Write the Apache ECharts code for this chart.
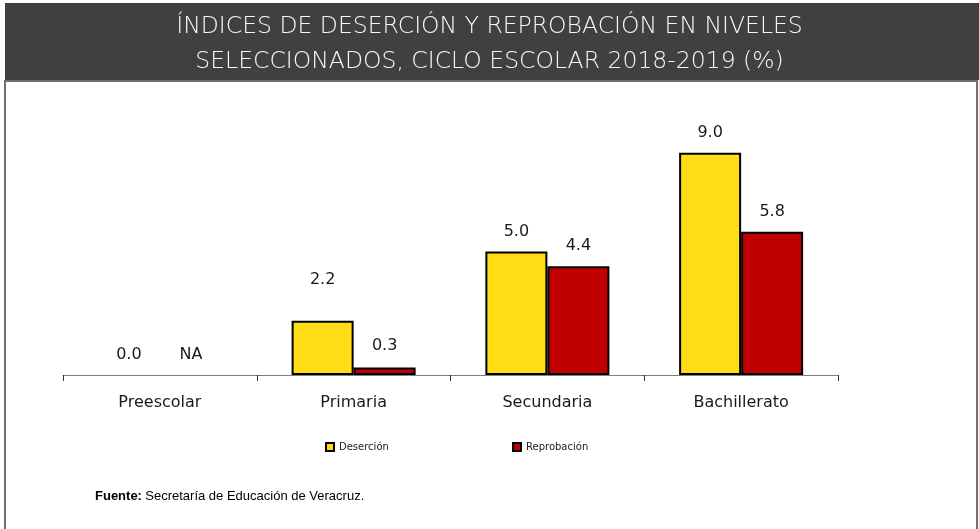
<!DOCTYPE html>
<html><head><meta charset="utf-8">
<script src="https://cdn.jsdelivr.net/npm/echarts@6/dist/echarts.min.js"></script>
<style>html,body{margin:0;padding:0;background:#fff}#c{width:979px;height:529px}</style>
</head><body><div id="c"></div>
<script>
const categories = ['Preescolar', 'Primaria', 'Secundaria', 'Bachillerato'];
const desercion = [0.0, 2.2, 5.0, 9.0];
const reprobacion = [null, 0.3, 4.4, 5.8];
const seriesNames = ['Deserción', 'Reprobación'];
const titleLines = ['ÍNDICES DE DESERCIÓN Y REPROBACIÓN EN NIVELES', 'SELECCIONADOS, CICLO ESCOLAR 2018-2019 (%)'];

const chart = echarts.init(document.getElementById('c'), null, {renderer: 'canvas'});
// label distance per item (the source places the Primaria deserción label higher)
const desLabelDist = [12, 33, 12, 12];
const repLabelDist = [12, 14, 12, 12];
function toData(arr, dist) {
  return arr.map((v, i) => {
    const val = v === null ? 0 : v;
    const d = {value: val, raw: v, label: {distance: dist[i]}};
    if (val === 0) d.itemStyle = {borderWidth: 0, color: 'rgba(0,0,0,0)'};
    return d;
  });
}
const labelCfg = {
  show: true, position: 'top', distance: 12,
  fontFamily: 'DejaVu Sans', fontSize: 16, color: '#1a1a1a',
  formatter: p => p.data.raw === null ? 'NA' : p.data.raw.toFixed(1)
};
const titleFont = '200 23.5px "DejaVu Sans"';
chart.setOption({
  animation: false,
  graphic: [
    {type: 'rect', shape: {x: 5, y: 3, width: 974, height: 77}, style: {fill: '#404040'}, z: 0},
    {type: 'line', shape: {x1: 5, y1: 81, x2: 977, y2: 81}, style: {stroke: '#6f6f72', lineWidth: 2}},
    {type: 'line', shape: {x1: 5, y1: 80, x2: 5, y2: 529}, style: {stroke: '#6f6f72', lineWidth: 2}},
    {type: 'line', shape: {x1: 977, y1: 80, x2: 977, y2: 529}, style: {stroke: '#6f6f72', lineWidth: 2}},
    {type: 'text', left: 'center', top: 15, style: {text: titleLines[0], fill: '#f7f7f7', font: titleFont}},
    {type: 'text', left: 'center', top: 50, style: {text: titleLines[1], fill: '#f7f7f7', font: titleFont}},
    {type: 'text', left: 95, top: 490, style: {rich: {b: {fontWeight: 'bold', fontFamily: 'Liberation Sans', fontSize: 13, fill: '#000'}, n: {fontFamily: 'Liberation Sans', fontSize: 13, fill: '#000'}}, text: '{b|Fuente:} {n|Secretaría de Educación de Veracruz.}'}}
  ],
  legend: [
    {data: [seriesNames[0]], left: 320, top: 437, itemWidth: 8, itemHeight: 8, itemGap: 5, icon: 'rect',
     textStyle: {fontFamily: 'DejaVu Sans', fontSize: 10, color: '#222'}},
    {data: [seriesNames[1]], left: 507, top: 437, itemWidth: 8, itemHeight: 8, itemGap: 5, icon: 'rect',
     textStyle: {fontFamily: 'DejaVu Sans', fontSize: 10, color: '#222'}}
  ],
  grid: {left: 63, right: 141, top: 128, bottom: 154, containLabel: false},
  xAxis: {
    type: 'category', data: categories,
    axisLine: {lineStyle: {color: '#7f7f7f', width: 1}},
    axisTick: {show: true, length: 6, lineStyle: {color: '#333'}},
    axisLabel: {fontFamily: 'DejaVu Sans', fontSize: 16, color: '#1a1a1a', margin: 20}
  },
  yAxis: {type: 'value', min: 0, max: 10, show: false, splitLine: {show: false}},
  series: [
    {name: seriesNames[0], type: 'bar', data: toData(desercion, desLabelDist), barGap: '0%', barCategoryGap: '36%',
     itemStyle: {color: '#FEDD17', borderColor: '#000', borderWidth: 2}, label: labelCfg},
    {name: seriesNames[1], type: 'bar', data: toData(reprobacion, repLabelDist),
     itemStyle: {color: '#C00000', borderColor: '#000', borderWidth: 2}, label: labelCfg}
  ]
});
</script></body></html>
